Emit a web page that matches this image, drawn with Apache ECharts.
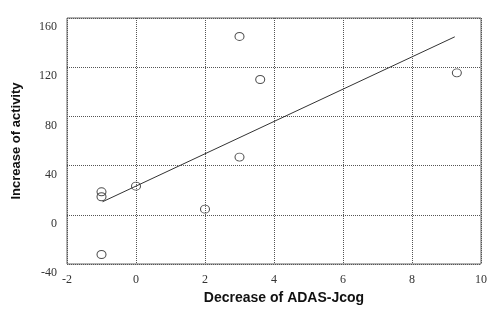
<!DOCTYPE html>
<html>
<head>
<meta charset="utf-8">
<script src="https://cdn.jsdelivr.net/npm/echarts@6/dist/echarts.min.js"></script>
<style>
  html, body { margin: 0; padding: 0; background: #fff; }
  #chart { width: 500px; height: 310px; }
</style>
</head>
<body>
<div id="chart"></div>
<script>
// values
var adasDecrease = [-1, -1, -1, 0, 2, 3, 3, 3.6, 9.3];
var activityIncrease = [18.7, 14.7, -32.3, 23.3, 4.6, 46.9, 145, 110, 115.4];
// regression line end points
var fitX = [-0.97, 9.24];
var fitY = [10.6, 144.7];

var points = adasDecrease.map(function (x, i) { return [x, activityIncrease[i]]; });
var fitLine = fitX.map(function (x, i) { return [x, fitY[i]]; });

var chart = echarts.init(document.getElementById('chart'));

var gridLine = {
    show: true,
    lineStyle: { color: '#555', type: [1, 1], width: 1 }
};

var option = {
    animation: false,
    backgroundColor: '#fff',
    grid: {
        left: 67,
        right: 19,
        top: 18,
        bottom: 46,
        show: true,
        borderColor: '#666',
        borderWidth: 1
    },
    xAxis: {
        type: 'value',
        min: -2,
        max: 10,
        interval: 2,
        axisLine: { show: false },
        axisTick: { show: false },
        splitLine: gridLine,
        axisLabel: {
            color: '#333',
            fontFamily: 'Liberation Serif',
            fontSize: 12,
            margin: 10
        },
        name: 'Decrease of ADAS-Jcog',
        nameLocation: 'middle',
        nameGap: 27,
        nameTextStyle: {
            color: '#111',
            fontFamily: 'Liberation Sans',
            fontWeight: 'bold',
            fontSize: 14,
            padding: [0, 0, 0, 20]
        }
    },
    yAxis: {
        type: 'value',
        min: -40,
        max: 160,
        interval: 40,
        axisLine: { show: false },
        axisTick: { show: false },
        splitLine: gridLine,
        axisLabel: {
            color: '#333',
            fontFamily: 'Liberation Serif',
            fontSize: 12,
            margin: 10,
            verticalAlign: 'top',
            padding: [3, 0, 0, 0]
        },
        name: 'Increase of activity',
        nameLocation: 'middle',
        nameGap: 44,
        nameTextStyle: {
            color: '#111',
            fontFamily: 'Liberation Sans',
            fontWeight: 'bold',
            fontSize: 13
        }
    },
    series: [
        {
            type: 'line',
            data: fitLine,
            symbol: 'none',
            lineStyle: { color: '#333', width: 1 },
            silent: true
        },
        {
            type: 'scatter',
            data: points,
            symbol: 'circle',
            symbolSize: [9, 8],
            itemStyle: { color: 'transparent', borderColor: '#222', borderWidth: 1 }
        }
    ]
};
chart.setOption(option);
</script>
</body>
</html>
